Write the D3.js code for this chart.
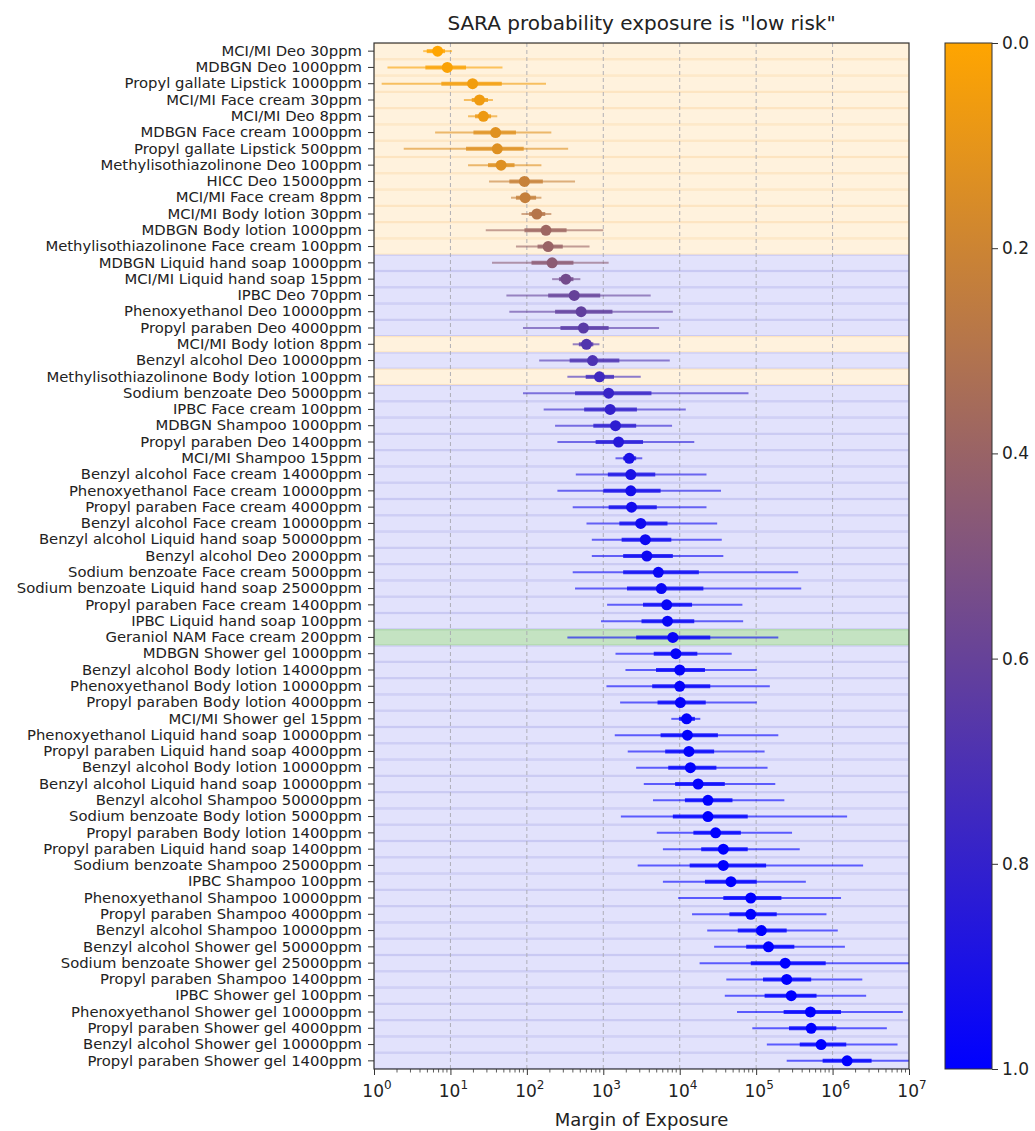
<!DOCTYPE html>
<html>
<head>
<meta charset="utf-8">
<script src="https://cdn.jsdelivr.net/npm/d3@7"></script>
<style>
  body { margin: 0; background: #fff; }
  text { font-family: "DejaVu Sans", sans-serif; fill: #222; }
</style>
</head>
<body>
<div id="chart"></div>
<script>
// Exposure scenarios, top to bottom
const labels = [
  "MCI/MI Deo 30ppm", "MDBGN Deo 1000ppm", "Propyl gallate Lipstick 1000ppm", "MCI/MI Face cream 30ppm",
  "MCI/MI Deo 8ppm", "MDBGN Face cream 1000ppm", "Propyl gallate Lipstick 500ppm", "Methylisothiazolinone Deo 100ppm",
  "HICC Deo 15000ppm", "MCI/MI Face cream 8ppm", "MCI/MI Body lotion 30ppm", "MDBGN Body lotion 1000ppm",
  "Methylisothiazolinone Face cream 100ppm", "MDBGN Liquid hand soap 1000ppm", "MCI/MI Liquid hand soap 15ppm", "IPBC Deo 70ppm",
  "Phenoxyethanol Deo 10000ppm", "Propyl paraben Deo 4000ppm", "MCI/MI Body lotion 8ppm", "Benzyl alcohol Deo 10000ppm",
  "Methylisothiazolinone Body lotion 100ppm", "Sodium benzoate Deo 5000ppm", "IPBC Face cream 100ppm", "MDBGN Shampoo 1000ppm",
  "Propyl paraben Deo 1400ppm", "MCI/MI Shampoo 15ppm", "Benzyl alcohol Face cream 14000ppm", "Phenoxyethanol Face cream 10000ppm",
  "Propyl paraben Face cream 4000ppm", "Benzyl alcohol Face cream 10000ppm", "Benzyl alcohol Liquid hand soap 50000ppm", "Benzyl alcohol Deo 2000ppm",
  "Sodium benzoate Face cream 5000ppm", "Sodium benzoate Liquid hand soap 25000ppm", "Propyl paraben Face cream 1400ppm", "IPBC Liquid hand soap 100ppm",
  "Geraniol NAM Face cream 200ppm", "MDBGN Shower gel 1000ppm", "Benzyl alcohol Body lotion 14000ppm", "Phenoxyethanol Body lotion 10000ppm",
  "Propyl paraben Body lotion 4000ppm", "MCI/MI Shower gel 15ppm", "Phenoxyethanol Liquid hand soap 10000ppm", "Propyl paraben Liquid hand soap 4000ppm",
  "Benzyl alcohol Body lotion 10000ppm", "Benzyl alcohol Liquid hand soap 10000ppm", "Benzyl alcohol Shampoo 50000ppm", "Sodium benzoate Body lotion 5000ppm",
  "Propyl paraben Body lotion 1400ppm", "Propyl paraben Liquid hand soap 1400ppm", "Sodium benzoate Shampoo 25000ppm", "IPBC Shampoo 100ppm",
  "Phenoxyethanol Shampoo 10000ppm", "Propyl paraben Shampoo 4000ppm", "Benzyl alcohol Shampoo 10000ppm", "Benzyl alcohol Shower gel 50000ppm",
  "Sodium benzoate Shower gel 25000ppm", "Propyl paraben Shampoo 1400ppm", "IPBC Shower gel 100ppm", "Phenoxyethanol Shower gel 10000ppm",
  "Propyl paraben Shower gel 4000ppm", "Benzyl alcohol Shower gel 10000ppm", "Propyl paraben Shower gel 1400ppm"
];

// Median margin of exposure
const medians = [
  6.8, 9.1, 19.5, 24, 27, 39, 41, 46, 93, 95, 135, 178, 190, 214, 324, 417,
  513, 550, 603, 724, 891, 1175, 1230, 1445, 1585, 2188, 2291, 2291, 2344, 3090, 3548, 3715,
  5248, 5754, 6761, 6918, 8128, 8913, 10000, 10000, 10200, 12300, 12600, 13200, 13800, 17400, 23400, 23400,
  29500, 37200, 37200, 46800, 85100, 85100, 117000, 145000, 240000, 251000, 288000, 513000, 525000, 708000, 1550000
];

// Outer interval (thin line)
const outerLow = [
  4.4, 1.5, 1.26, 15, 17, 6.3, 2.45, 17, 32, 62, 85, 29, 72, 35, 214, 54,
  59, 89, 398, 145, 339, 89, 166, 234, 251, 1445, 437, 251, 398, 603, 708, 708,
  398, 427, 1122, 933, 339, 1445, 1950, 1100, 1660, 7762, 1413, 2089, 2692, 3388, 4467, 1698,
  5012, 6026, 2818, 6026, 9550, 14500, 22900, 28200, 18200, 40700, 38900, 56200, 89100, 138000, 251000
];
const outerHigh = [
  10.5, 48, 178, 36, 41, 209, 347, 155, 427, 155, 209, 1000, 661, 1175, 501, 4169,
  8128, 5370, 891, 7413, 3090, 79400, 12000, 7943, 15500, 3236, 22400, 34700, 22400, 30900, 35500, 37200,
  355000, 389000, 66100, 67600, 195000, 47900, 102000, 151000, 102000, 18600, 195000, 129000, 141000, 178000, 234000, 1550000,
  295000, 372000, 2510000, 447000, 1290000, 832000, 1170000, 1450000, 15000000, 2450000, 2750000, 8300000, 5130000, 7080000, 16000000
];

// Inner interval (thick line)
const innerLow = [
  4.9, 4.7, 7.6, 19, 21, 20, 16, 31, 59, 72, 107, 93, 138, 115, 263, 190,
  234, 275, 479, 363, 589, 427, 562, 741, 794, 1820, 1148, 1000, 1175, 1622, 1738, 1820,
  1820, 2042, 3311, 3162, 2692, 4571, 4898, 4365, 5129, 9772, 5623, 6457, 7079, 8710, 11700, 8128,
  15100, 19100, 13500, 21400, 37200, 44700, 57500, 74100, 85100, 123000, 129000, 229000, 269000, 372000, 741000
];
const innerHigh = [
  8.5, 16, 47, 31, 34, 72, 91, 69, 162, 132, 174, 331, 295, 407, 407, 912,
  1318, 1175, 741, 1622, 1380, 4266, 2754, 2692, 3311, 2692, 4786, 5623, 5012, 6918, 7762, 8128,
  17800, 20400, 14500, 15500, 25100, 17000, 21400, 25100, 21900, 15800, 31600, 28200, 30200, 38900, 49000, 77600,
  63100, 77600, 135000, 102000, 214000, 186000, 251000, 316000, 813000, 525000, 617000, 1290000, 1120000, 1510000, 3240000
];

// SARA probability that the exposure is "low risk"
const probLowRisk = [
  0.0, 0.02, 0.05, 0.06, 0.07, 0.12, 0.13, 0.13, 0.22, 0.23, 0.29, 0.38, 0.40, 0.45, 0.55, 0.60,
  0.62, 0.65, 0.68, 0.70, 0.75, 0.78, 0.80, 0.82, 0.85, 0.90, 0.90, 0.92, 0.93, 0.94, 0.95, 0.95,
  0.96, 0.96, 0.97, 0.97, 0.97, 0.98, 0.98, 0.98, 0.98, 0.99, 0.99, 0.99, 0.99, 0.99, 1.0, 1.0,
  1.0, 1.0, 1.0, 1.0, 1.0, 1.0, 1.0, 1.0, 1.0, 1.0, 1.0, 1.0, 1.0, 1.0, 1.0
];

// Background band per row
const bandType = labels.map(() => "blue");
[0, 1, 2, 3, 4, 5, 6, 7, 8, 9, 10, 11, 12, 18, 20].forEach(i => bandType[i] = "orange");
bandType[36] = "green";

const xTicks = [1, 10, 100, 1e3, 1e4, 1e5, 1e6, 1e7];
const cbarTicks = [0, 0.2, 0.4, 0.6, 0.8, 1.0];

const bandFill = { orange: "#fff2dd", blue: "#e2e2fc", green: "#c4e3c2" };
const bandEdge = { orange: "#fde4c0", blue: "#c9c9f3", green: "#a9d3a6" };

const W = 1035, H = 1131;
const plot = { left: 374, right: 909, top: 43, bottom: 1069 };
const cbar = { left: 945, right: 992 };

const svg = d3.select("#chart").append("svg").attr("width", W).attr("height", H);

const x = d3.scaleLog().domain([1, 1e7]).range([plot.left, plot.right]);
const y = d3.scaleBand().domain(d3.range(labels.length)).range([plot.top, plot.bottom]).padding(0);
const color = d3.scaleLinear().domain([0, 1]).range(["#ffa500", "#0000ff"]).interpolate(d3.interpolateRgb);

const rows = labels.map((d, i) => ({
  i, label: d, med: medians[i], lo: outerLow[i], hi: outerHigh[i],
  lo2: innerLow[i], hi2: innerHigh[i], p: probLowRisk[i], band: bandType[i]
}));

svg.append("clipPath").attr("id", "plotclip")
  .append("rect")
  .attr("x", plot.left).attr("y", plot.top)
  .attr("width", plot.right - plot.left).attr("height", plot.bottom - plot.top);

const chart = svg.append("g").attr("clip-path", "url(#plotclip)");

// Row bands
chart.selectAll(".band").data(rows).join("rect")
  .attr("class", "band")
  .attr("x", plot.left)
  .attr("y", d => y(d.i) + 0.5)
  .attr("width", plot.right - plot.left)
  .attr("height", y.bandwidth() - 1)
  .attr("fill", d => bandFill[d.band])
  .attr("stroke", d => bandEdge[d.band])
  .attr("stroke-width", 1.2);

// Vertical grid
chart.selectAll(".grid").data(xTicks.slice(1, -1)).join("line")
  .attr("x1", d => x(d)).attr("x2", d => x(d))
  .attr("y1", plot.top).attr("y2", plot.bottom)
  .attr("stroke", "#a8a8b0").attr("stroke-width", 0.9).attr("stroke-dasharray", "4,3");

const cy = d => y(d.i) + y.bandwidth() / 2;

chart.selectAll(".outer").data(rows).join("line")
  .attr("x1", d => x(d.lo)).attr("x2", d => x(d.hi))
  .attr("y1", cy).attr("y2", cy)
  .attr("stroke", d => color(d.p)).attr("stroke-opacity", 0.6).attr("stroke-width", 2);

chart.selectAll(".inner").data(rows).join("line")
  .attr("x1", d => x(d.lo2)).attr("x2", d => x(d.hi2))
  .attr("y1", cy).attr("y2", cy)
  .attr("stroke", d => color(d.p)).attr("stroke-opacity", 0.8).attr("stroke-width", 4);

chart.selectAll(".dot").data(rows).join("circle")
  .attr("cx", d => x(d.med)).attr("cy", cy).attr("r", 5.5)
  .attr("fill", d => color(d.p));

// Frame
svg.append("rect")
  .attr("x", plot.left).attr("y", plot.top)
  .attr("width", plot.right - plot.left).attr("height", plot.bottom - plot.top)
  .attr("fill", "none").attr("stroke", "#333").attr("stroke-width", 1.2);

// Y axis
const yAxis = svg.append("g").attr("transform", `translate(${plot.left},0)`)
  .call(d3.axisLeft(y).tickFormat(i => labels[i]).tickSize(6).tickPadding(6));
yAxis.select(".domain").remove();
yAxis.selectAll("text").style("font-size", "14.8px").attr("fill", "#333");
yAxis.selectAll("line").attr("stroke", "#333");

// X axis
const xAxis = svg.append("g").attr("transform", `translate(0,${plot.bottom})`)
  .call(d3.axisBottom(x).tickValues(xTicks).tickFormat("").tickSize(6));
xAxis.select(".domain").remove();
xAxis.selectAll("line").attr("stroke", "#333");

const minor = [];
xTicks.slice(0, -1).forEach(t => { for (let k = 2; k < 10; k++) minor.push(t * k); });
svg.append("g").selectAll("line").data(minor).join("line")
  .attr("x1", d => x(d)).attr("x2", d => x(d))
  .attr("y1", plot.bottom).attr("y2", plot.bottom + 3.5)
  .attr("stroke", "#333").attr("stroke-width", 0.8);

const xl = svg.append("g").selectAll("text").data(xTicks).join("text")
  .attr("x", d => x(d) + 3).attr("y", plot.bottom + 28)
  .attr("text-anchor", "middle").style("font-size", "17px").attr("fill", "#333");
xl.append("tspan").text("10");
xl.append("tspan").attr("dy", -8).style("font-size", "12px").text(d => Math.round(Math.log10(d)));

svg.append("text")
  .attr("x", (plot.left + plot.right) / 2).attr("y", 1126)
  .attr("text-anchor", "middle").style("font-size", "18px").attr("fill", "#333")
  .text("Margin of Exposure");

svg.append("text")
  .attr("x", (plot.left + plot.right) / 2).attr("y", 30)
  .attr("text-anchor", "middle").style("font-size", "20px").attr("fill", "#222")
  .text('SARA probability exposure is "low risk"');

// Colorbar
const grad = svg.append("defs").append("linearGradient")
  .attr("id", "cgrad").attr("x1", 0).attr("x2", 0).attr("y1", 0).attr("y2", 1);
d3.range(0, 1.01, 0.1).forEach(t => {
  grad.append("stop").attr("offset", t).attr("stop-color", color(t));
});
svg.append("rect")
  .attr("x", cbar.left).attr("y", plot.top)
  .attr("width", cbar.right - cbar.left).attr("height", plot.bottom - plot.top)
  .attr("fill", "url(#cgrad)").attr("stroke", "#333").attr("stroke-width", 1);

const cScale = d3.scaleLinear().domain([0, 1]).range([plot.top, plot.bottom]);
const cAxis = svg.append("g").attr("transform", `translate(${cbar.right},0)`)
  .call(d3.axisRight(cScale).tickValues(cbarTicks).tickFormat(d3.format(".1f")).tickSize(6).tickPadding(4));
cAxis.select(".domain").remove();
cAxis.selectAll("text").style("font-size", "17px").attr("fill", "#333");
cAxis.selectAll("line").attr("stroke", "#333");
</script>
</body>
</html>
